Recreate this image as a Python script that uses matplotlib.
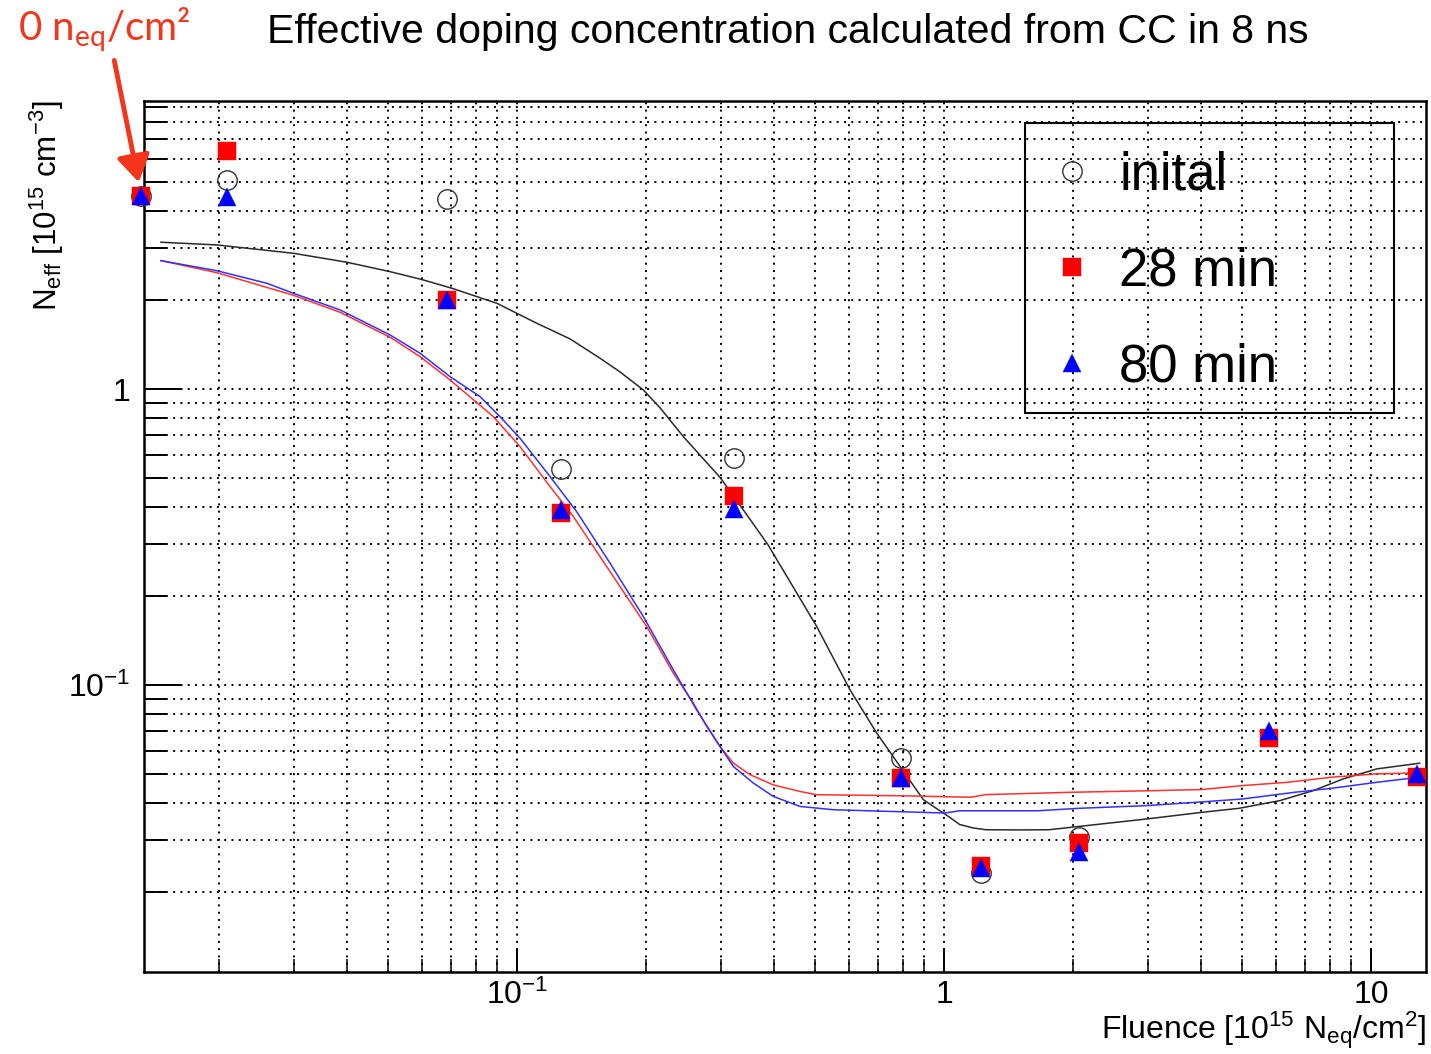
import numpy as np
import matplotlib
matplotlib.use("Agg")
import matplotlib.pyplot as plt
from matplotlib.ticker import FixedLocator, FixedFormatter, LogLocator, NullFormatter
from matplotlib.patches import Rectangle

plt.rcParams['font.family'] = ['Liberation Sans', 'DejaVu Sans']
plt.rcParams['mathtext.fontset'] = 'custom'
plt.rcParams['mathtext.rm'] = 'Liberation Sans'
plt.rcParams['mathtext.it'] = 'Liberation Sans:italic'
plt.rcParams['mathtext.bf'] = 'Liberation Sans:bold'

# Measured points (fluence in 1e15 neq/cm^2, Neff in 1e15 cm^-3).
# The unirradiated sample (0 neq/cm^2) is placed at the left edge of the log axis.
fluence = [0.0132, 0.0209, 0.0684, 0.127, 0.322, 0.795, 1.22, 2.07, 5.77, 12.8]
neff_initial = [4.50, 5.09, 4.39, 0.537, 0.587, 0.0569, 0.0231, 0.0306, np.nan, np.nan]
neff_28min = [4.50, 6.40, 2.00, 0.382, 0.434, 0.0484, 0.0244, 0.0292, 0.0664, 0.0490]
neff_80min = [4.50, 4.46, 2.00, 0.392, 0.393, 0.0487, 0.0240, 0.0273, 0.0700, 0.0500]

# Model curves
curve_fluence_initial = [0.01466, 0.0198, 0.02993, 0.03993, 0.05043, 0.06035, 0.07034, 0.08965,
                         0.1112, 0.1331, 0.1564, 0.1742, 0.1976, 0.2163, 0.2452, 0.2988, 0.3388,
                         0.3871, 0.5033, 0.6023, 0.6958, 0.7889, 0.8944, 1.0235, 1.088, 1.17,
                         1.252, 1.5, 1.762, 2.069, 2.971, 4.013, 4.905, 6.118, 7.331, 8.608,
                         10.32, 13.0]
curve_neff_initial = [3.138, 3.073, 2.880, 2.686, 2.496, 2.340, 2.194, 1.952,
                      1.671, 1.479, 1.273, 1.144, 0.9945, 0.8646, 0.6914, 0.5035, 0.3911,
                      0.2979, 0.1578, 0.0964, 0.0688, 0.0531, 0.0410, 0.0360, 0.0338, 0.0329,
                      0.03245, 0.0324, 0.03245, 0.03329, 0.03526, 0.03715, 0.03833, 0.04070,
                      0.04401, 0.04820, 0.05210, 0.05446]

curve_fluence_28min = [0.01466, 0.0198, 0.02993, 0.0385, 0.05043, 0.05928, 0.06968, 0.0880,
                       0.1016, 0.1195, 0.1355, 0.1564, 0.1806, 0.2012, 0.2323, 0.2588, 0.2781,
                       0.2988, 0.3210, 0.3513, 0.3983, 0.4600, 0.5033, 0.789, 1.155, 1.252,
                       1.988, 3.153, 4.013, 5.004, 6.372, 8.102, 10.32, 13.0]
curve_neff_28min = [2.719, 2.477, 2.078, 1.820, 1.498, 1.289, 1.075, 0.8081,
                    0.6399, 0.4688, 0.3712, 0.2720, 0.1992, 0.1578, 0.1098, 0.0869, 0.0725,
                    0.0620, 0.0545, 0.0498, 0.0460, 0.0437, 0.04261, 0.04227, 0.04178, 0.04264,
                    0.04343, 0.04401, 0.04436, 0.04575, 0.04694, 0.04885, 0.05012, 0.05051]

curve_fluence_80min = [0.01466, 0.0198, 0.02593, 0.02993, 0.0385, 0.05043, 0.05928, 0.06968,
                       0.0819, 0.0912, 0.1016, 0.1195, 0.1379, 0.1651, 0.1976, 0.2323, 0.2634,
                       0.2988, 0.3210, 0.3576, 0.3983, 0.4600, 0.5506, 1.004, 1.088, 1.659,
                       2.069, 2.971, 4.096, 5.004, 6.63, 8.102, 10.32, 13.0]
curve_neff_80min = [2.719, 2.515, 2.281, 2.110, 1.853, 1.525, 1.323, 1.103,
                    0.9441, 0.8081, 0.6831, 0.5067, 0.3859, 0.2584, 0.1705, 0.1126, 0.0825,
                    0.0620, 0.0531, 0.04666, 0.04205, 0.03890, 0.03791, 0.03695, 0.03761, 0.03761,
                    0.03833, 0.03914, 0.04037, 0.04123, 0.04343, 0.04481, 0.04694, 0.04885]

series_labels = ['inital', '28 min', '80 min']
x_major_ticks = [0.1, 1, 10]
x_major_labels = [r'$\mathdefault{10^{-1}}$', '1', '10']
y_major_ticks = [0.1, 1]
y_major_labels = [r'$\mathdefault{10^{-1}}$', '1']

RED = '#ff0000'
BLUE = '#0000ff'
ANNOT_RED = '#f5341c'

fig = plt.figure(figsize=(14.31, 10.54), dpi=100)
ax = fig.add_axes([144 / 1431, 1 - 971.7 / 1054, 1282 / 1431, 871 / 1054])
ax.set_xscale('log')
ax.set_yscale('log')
ax.set_xlim(0.01338, 13.45)
ax.set_ylim(0.01075, 9.44)

# grid
ax.grid(True, which='both', color='black', linestyle=(0, (1, 2.75)), linewidth=1.4, zorder=0)
ax.set_axisbelow(True)

# curves
ax.plot(curve_fluence_initial, curve_neff_initial, color='#2a2a2a', lw=1.1, zorder=3)
ax.plot(curve_fluence_28min, curve_neff_28min, color='#ff3030', lw=1.1, zorder=3)
ax.plot(curve_fluence_80min, curve_neff_80min, color='#3030ff', lw=1.1, zorder=3)

# points
h0, = ax.plot(fluence, neff_initial, 'o', ms=14, mfc='none', mec='#333333', mew=1.0,
              clip_on=False, zorder=4)
h1, = ax.plot(fluence, neff_28min, 's', ms=13.5, mfc=RED, mec=RED, mew=0.3,
              clip_on=False, zorder=4)
h2, = ax.plot(fluence, neff_80min, '^', ms=13.5, mfc=BLUE, mec=BLUE, mew=0.3,
              clip_on=False, zorder=4)

# axes styling
for s in ax.spines.values():
    s.set_linewidth(1.8)
ax.tick_params(which='both', direction='in', top=False, right=False, labelsize=23)
ax.tick_params(axis='y', which='major', length=27.4, width=1.4, pad=10)
ax.tick_params(axis='y', which='minor', length=15.8, width=1.4)
ax.tick_params(axis='x', which='major', length=17.3, width=1.4, pad=6)
ax.tick_params(axis='x', which='minor', length=9.4, width=1.1)

ax.xaxis.set_major_locator(FixedLocator(x_major_ticks))
ax.xaxis.set_major_formatter(FixedFormatter(x_major_labels))
ax.yaxis.set_major_locator(FixedLocator(y_major_ticks))
ax.yaxis.set_major_formatter(FixedFormatter(y_major_labels))
ax.xaxis.set_minor_locator(LogLocator(base=10, subs=np.arange(2, 10), numticks=30))
ax.yaxis.set_minor_locator(LogLocator(base=10, subs=np.arange(2, 10), numticks=30))
ax.xaxis.set_minor_formatter(NullFormatter())
ax.yaxis.set_minor_formatter(NullFormatter())

ax.set_xlabel(r'Fluence [10$^{\mathdefault{15}}$ N$_{\mathdefault{eq}}$/cm$^{\mathdefault{2}}$]',
              fontsize=23, loc='right')
ax.xaxis.set_label_coords(1.0, -0.043)
ax.set_ylabel(r'N$_{\mathdefault{eff}}$ [10$^{\mathdefault{15}}$ cm$^{\mathdefault{-3}}$]',
              fontsize=22.5, loc='top')
ax.yaxis.set_label_coords(-0.0608, 1.0)

fig.text(787.5 / 1431, 1 - 42.7 / 1054,
         'Effective doping concentration calculated from CC in 8 ns',
         ha='center', va='baseline', fontsize=29.5)

# legend with a fixed frame
ax.add_patch(Rectangle((0.6872, 0.6414), 0.2878, 0.3330, transform=ax.transAxes,
                       fill=False, lw=1.5, ec='black', zorder=6))
ax.legend([h0, h1, h2], series_labels, loc='upper left', bbox_to_anchor=(0.7075, 0.9423),
          borderaxespad=0, borderpad=0, frameon=False, fontsize=38, handlelength=0.8,
          handletextpad=0.49, labelspacing=0.87, numpoints=1)

# marker for the unirradiated sample
ax.annotate(r'0 n$_{\mathdefault{eq}}$/cm²', xy=(fluence[0], neff_28min[0]), xycoords='data',
            xytext=(18 / 1431, 1 - 40 / 1054), textcoords='figure fraction',
            ha='left', va='baseline', fontsize=29, color=ANNOT_RED, fontfamily='Lato',
            annotation_clip=False,
            arrowprops=dict(arrowstyle='-|>,head_length=0.8,head_width=0.5', mutation_scale=20,
                            color=ANNOT_RED, lw=3.5, shrinkA=3, shrinkB=10, relpos=(0.55, 0.0)))

fig.savefig('out.png', dpi=100)
